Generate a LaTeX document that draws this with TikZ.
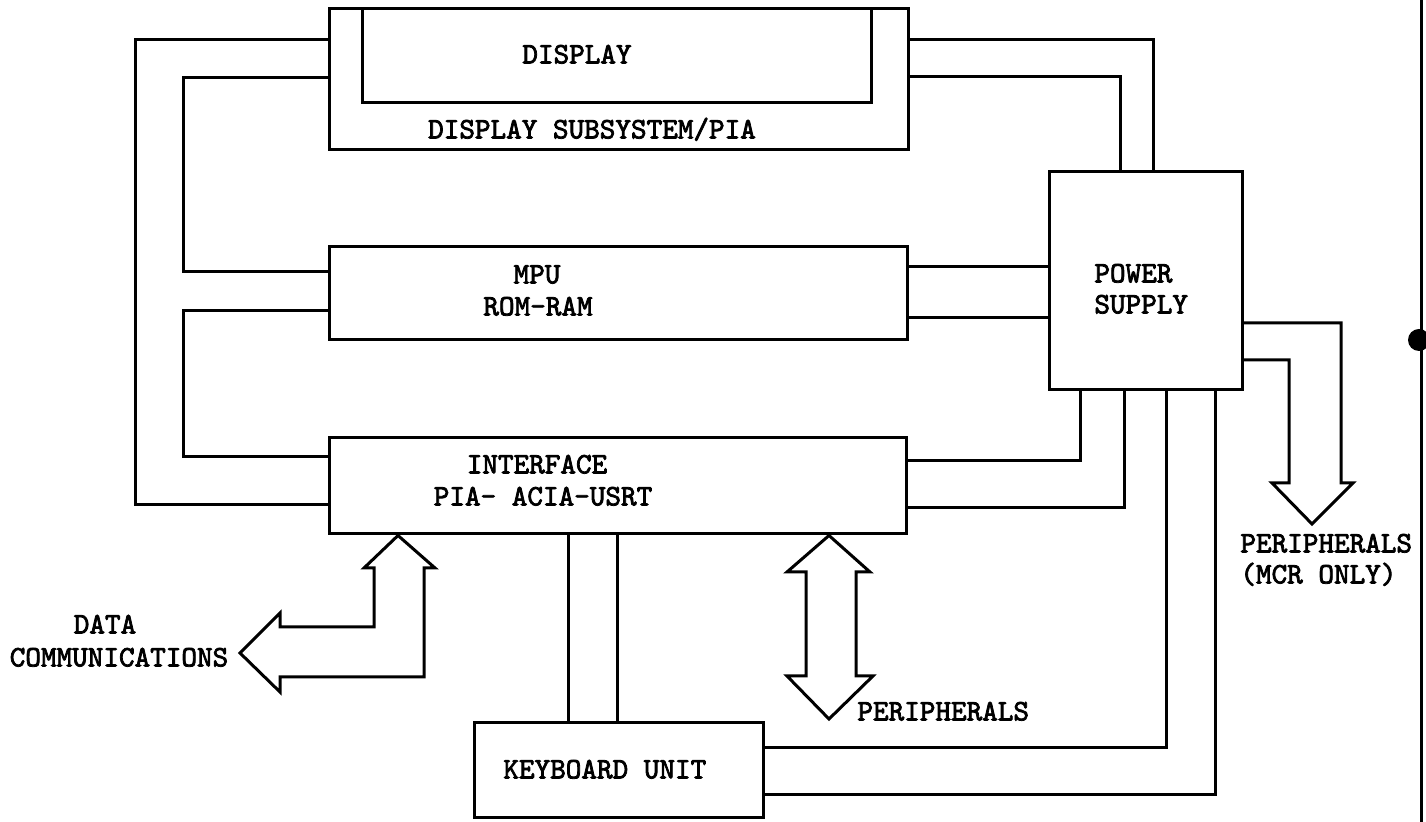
\documentclass[tikz,border=0pt]{standalone}
\usepackage{fontspec}
\newfontfamily\twfont{lmmono10-regular.otf}[FakeBold=2.6]
\begin{document}
\begin{tikzpicture}[x=0.5pt,y=-0.5pt,
  box/.style={draw,line width=1.5pt,inner sep=0pt},
  wire/.style={line width=1.5pt,line join=miter},
  lbl/.style={font=\twfont\fontsize{14.86}{18}\selectfont,inner sep=0pt,text height=8.4pt,text depth=0pt}]
\useasboundingbox (0,0) rectangle (1426,822);
% boxes
\node[box,minimum width=289.5pt,minimum height=70.5pt] (sub) at (618.5,79.5) {};
\node[box,minimum width=254.5pt,minimum height=47pt] (disp) at (616.5,56) {};
\node[box,minimum width=289pt,minimum height=46.5pt] (mpu) at (618,293.5) {};
\node[box,minimum width=288.5pt,minimum height=48pt] (iface) at (617.5,486) {};
\node[box,minimum width=96.5pt,minimum height=109pt] (power) at (1145.5,281) {};
\node[box,minimum width=144.5pt,minimum height=47.5pt] (kbd) at (618.5,770.5) {};
% labels
\node[lbl] (tdisp) at (577,55) {DISPLAY};
\node[lbl] (tsub) at (592,130) {DISPLAY SUBSYSTEM/PIA};
\node[lbl] (tmpu1) at (537,275) {MPU};
\node[lbl] (tmpu2) at (538,307) {ROM-RAM};
\node[lbl] (tif1) at (537,465) {INTERFACE};
\node[lbl] (tif2) at (543,497) {PIA- ACIA-USRT};
\node[lbl,anchor=west] (tpw1) at (1094,274) {POWER};
\node[lbl,anchor=west] (tpw2) at (1094,305) {SUPPLY};
\node[lbl,anchor=west] (tkbd) at (503,770) {KEYBOARD UNIT};
\node[lbl,anchor=west] (tper) at (857,712) {PERIPHERALS};
\node[lbl,anchor=west] (tmcr1) at (1240,544) {PERIPHERALS};
\node[lbl,anchor=west] (tmcr2) at (1240,575) {(MCR ONLY)};
\node[lbl] (tdata1) at (105,625) {DATA};
\node[lbl] (tdata2) at (119,658) {COMMUNICATIONS};
% connectors
\draw[wire] (sub.east |- 0,40) -| (power.north -| 1153,0);
\draw[wire] (sub.east |- 0,77) -| (power.north -| 1120,0);
\draw[wire] (sub.west |- 0,40) -| (135,505) -- (iface.west |- 0,505);
\draw[wire] (sub.west |- 0,78) -| (183,272) -- (mpu.west |- 0,272);
\draw[wire] (mpu.west |- 0,311) -| (183,457) -- (iface.west |- 0,457);
\draw[wire] (mpu.east |- 0,267) -- (power.west |- 0,267);
\draw[wire] (mpu.east |- 0,318) -- (power.west |- 0,318);
\draw[wire] (power.south -| 1080,0) |- (iface.east |- 0,461);
\draw[wire] (power.south -| 1124,0) |- (iface.east |- 0,508);
\draw[wire] (power.south -| 1166,0) |- (kbd.east |- 0,748);
\draw[wire] (power.south -| 1215,0) |- (kbd.east |- 0,795);
\draw[wire] (iface.south -| 568,0) -- (kbd.north -| 568,0);
\draw[wire] (iface.south -| 617,0) -- (kbd.north -| 617,0);
% MCR peripherals arrow
\draw[wire] (power.east |- 0,360) -- (1289,360) -- (1289,483) -- (1272,483) -- (1312,524) -- (1353,483) -- (1341,483) -- (1341,323) -- (power.east |- 0,323);
% data communications arrow
\draw[wire] (iface.south -| 398,0) -- (364,568) -- (374,568) -- (374,627) -- (280,627) -- (280,613) -- (240,653) -- (280,692) -- (280,677) -- (424,677) -- (424,568) -- (435,568) -- cycle;
% peripherals double arrow
\draw[wire] (iface.south -| 829,0) -- (787,572) -- (806,572) -- (806,676) -- (787,676) -- (829,719) -- (873,676) -- (856,676) -- (856,572) -- (870,572) -- cycle;
% page edge
\draw[line width=1.5pt] (1421,0) -- (1421,822);
\fill (1419,340) circle (11);
\end{tikzpicture}
\end{document}
